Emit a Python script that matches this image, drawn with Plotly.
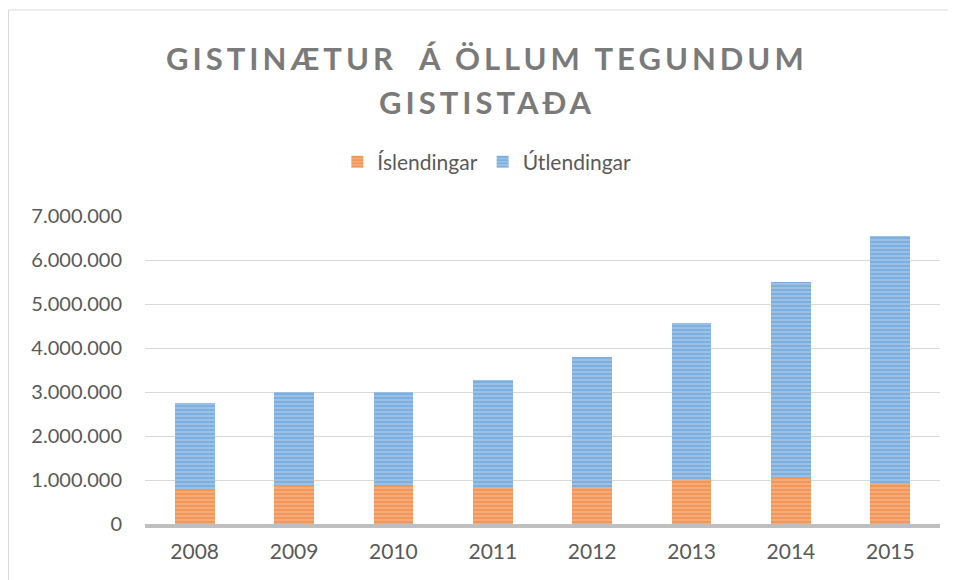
import plotly.graph_objects as go

years = ["2008", "2009", "2010", "2011", "2012", "2013", "2014", "2015"]
islendingar = [800000, 890000, 860000, 820000, 840000, 1020000, 1060000, 910000]
totals = [2750000, 3000000, 3000000, 3270000, 3800000, 4570000, 5510000, 6550000]
utlendingar = [t - i for t, i in zip(totals, islendingar)]

TITLE_LINES = ["GISTINÆTUR  Á ÖLLUM TEGUNDUM", "GISTISTAÐA"]
FONT = "Lato"

fig = go.Figure()
fig.add_trace(go.Bar(
    x=years, y=islendingar, name="Íslendingar",
    marker=dict(color="#F4A56E", line=dict(width=0),
                pattern=dict(shape="-", fgcolor="#ED7D31", bgcolor="#F5B080",
                             size=4, solidity=0.6, fillmode="overlay")),
))
fig.add_trace(go.Bar(
    x=years, y=utlendingar, name="Útlendingar",
    marker=dict(color="#8DB8E2", line=dict(width=0),
                pattern=dict(shape="-", fgcolor="#5B9BD5", bgcolor="#A0C4E8",
                             size=4, solidity=0.6, fillmode="overlay")),
))

span = '<span style="letter-spacing:4px">{}</span>'
annotations = [
    dict(text=span.format(TITLE_LINES[0]), xref="paper", yref="paper",
         x=0.4300, y=1.513, xanchor="center", yanchor="middle", showarrow=False,
         font=dict(family=FONT, size=31, color="#7A7A7A", weight="bold")),
    dict(text=span.format(TITLE_LINES[1]), xref="paper", yref="paper",
         x=0.4300, y=1.370, xanchor="center", yanchor="middle", showarrow=False,
         font=dict(family=FONT, size=31, color="#7A7A7A", weight="bold")),
]

fig.update_layout(
    barmode="stack",
    bargap=0.6,
    width=948, height=572,
    margin=dict(l=137, r=16, t=208, b=56),
    paper_bgcolor="white", plot_bgcolor="white",
    separators=",.",
    font=dict(family=FONT, size=21, color="#595959"),
    annotations=annotations,
    legend=dict(orientation="h", x=0.43, xanchor="center", y=1.175, yanchor="middle",
                font=dict(family=FONT, size=21, color="#595959"),
                itemwidth=30, traceorder="normal"),
    yaxis=dict(range=[0, 7000000], dtick=1000000, tickformat=",d",
               showgrid=True, gridcolor="#D9D9D9", gridwidth=1,
               zeroline=False, showline=False, ticks="", ticklabelstandoff=22,
               tickfont=dict(family=FONT, size=20, color="#595959")),
    xaxis=dict(showline=True, linecolor="#BFBFBF", linewidth=4, ticks="",
               ticklabelstandoff=6,
               tickfont=dict(family=FONT, size=21, color="#595959")),
    shapes=[dict(type="rect", xref="paper", yref="paper",
                 x0=-0.1717, x1=1.2, y0=-0.4, y1=1.6688,
                 line=dict(color="#D9D9D9", width=1), fillcolor="rgba(0,0,0,0)",
                 layer="below")],
)

fig.write_html("out.html")
